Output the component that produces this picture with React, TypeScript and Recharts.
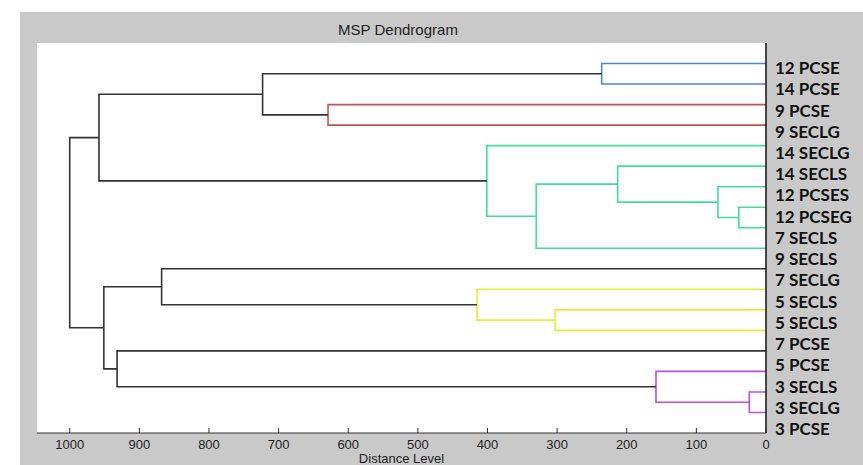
import { CartesianGrid, Line, LineChart, XAxis, YAxis } from "recharts";

// leaves, top to bottom
const leafLabels = [
  "12 PCSE",
  "14 PCSE",
  "9 PCSE",
  "9 SECLG",
  "14 SECLG",
  "14 SECLS",
  "12 PCSES",
  "12 PCSEG",
  "7 SECLS",
  "9 SECLS",
  "7 SECLG",
  "5 SECLS",
  "5 SECLS",
  "7 PCSE",
  "5 PCSE",
  "3 SECLS",
  "3 SECLG",
  "3 PCSE",
];

// linkage: node ids 0..17 are leaves, merge k gets id 18 + k
const mergeLeft = [7, 6, 5, 20, 4, 0, 2, 23, 25, 12, 11, 10, 16, 15, 14, 29, 26];
const mergeRight = [8, 18, 19, 9, 21, 1, 3, 24, 22, 13, 27, 28, 17, 30, 31, 32, 33];
const mergeHeight = [39, 69, 213, 330, 401, 236, 629, 723, 958, 303, 415, 868, 24, 158, 932, 951, 1000];
const mergeGroup = [
  "green", "green", "green", "green", "green",
  "blue", "red", "black", "black",
  "yellow", "yellow", "black",
  "purple", "purple", "black", "black", "black",
];

const distanceTicks = [0, 100, 200, 300, 400, 500, 600, 700, 800, 900, 1000];

const palette: Record<string, string> = {
  green: "#45dc9e",
  blue: "#4f83d6",
  red: "#c2564f",
  yellow: "#e3ee3a",
  purple: "#bb4fd9",
  black: "#333333",
};

const FONT = "'Liberation Sans', Arial, sans-serif";
const TICK_GAP = 7;

type Pt = { x: number; y: number };

function buildBrackets() {
  const nodes: Pt[] = leafLabels.map((_, i) => ({ x: 0, y: i + 1 }));
  const out: { pts: Pt[]; color: string }[] = [];
  mergeHeight.forEach((h, k) => {
    const a = nodes[mergeLeft[k]];
    const b = nodes[mergeRight[k]];
    nodes.push({ x: h, y: (a.y + b.y) / 2 });
    out.push({
      pts: [
        { x: a.x, y: a.y },
        { x: h, y: a.y },
        { x: h, y: b.y },
        { x: b.x, y: b.y },
      ],
      color: palette[mergeGroup[k]],
    });
  });
  return out;
}

const brackets = buildBrackets();
const labelTicks = leafLabels.map((_, i) => i + 1);

// matlab style: tick mark points into the plot, label below
function DistanceTick(props: any) {
  const { x, y, payload } = props;
  const axisY = y - TICK_GAP;
  return (
    <g>
      <line x1={x} x2={x} y1={axisY} y2={axisY - 5} stroke="#333" strokeWidth={1} />
      <text x={x} y={y} dy="0.71em" textAnchor="middle" fill="#1e1e1e" fontSize={13} fontFamily={FONT}>
        {payload.value}
      </text>
    </g>
  );
}

export default function App() {
  return (
    <div style={{ position: "absolute", left: 0, top: 0, width: 863, height: 465, background: "#fff", overflow: "hidden" }}>
      <div style={{ position: "absolute", left: 20, top: 12, width: 843, height: 453, background: "#c9c9c9" }} />
      <div
        style={{
          position: "absolute",
          left: 0,
          top: 21,
          width: 796,
          textAlign: "center",
          fontFamily: FONT,
          fontSize: 15,
          color: "#1e1e1e",
          lineHeight: "18px",
        }}
      >
        MSP Dendrogram
      </div>
      <LineChart
        width={863}
        height={465}
        margin={{ top: 43, right: 0, bottom: 0, left: 37 }}
        style={{ position: "absolute", left: 0, top: 0 }}
      >
        <CartesianGrid horizontal={false} vertical={false} fill="#ffffff" />
        <XAxis
          type="number"
          dataKey="x"
          domain={[0, 1047]}
          reversed
          allowDataOverflow
          ticks={distanceTicks}
          height={32}
          tickLine={false}
          tickSize={0}
          tickMargin={TICK_GAP}
          stroke="#333"
          tick={<DistanceTick />}
          label={{
            value: "Distance Level",
            position: "insideBottom",
            offset: 2,
            fill: "#1e1e1e",
            fontSize: 13,
            fontFamily: FONT,
          }}
        />
        <YAxis yAxisId="tree" type="number" domain={[0, 19]} reversed hide allowDataOverflow />
        <YAxis
          yAxisId="lab"
          orientation="right"
          type="number"
          domain={[-0.18, 18.19]}
          reversed
          allowDataOverflow
          ticks={labelTicks}
          interval={0}
          width={97}
          tickLine={false}
          tickSize={0}
          tickMargin={9}
          axisLine={{ stroke: "#111", strokeWidth: 1.5 }}
          tickFormatter={(v: number) => leafLabels[v - 1] ?? ""}
          tick={{ fill: "#111", fontSize: 17, fontWeight: 700, fontFamily: "Lato, 'Open Sans', sans-serif" }}
        />
        {brackets.map((b, i) => (
          <Line
            key={i}
            yAxisId="tree"
            data={b.pts}
            dataKey="y"
            type="linear"
            stroke={b.color}
            strokeWidth={1.6}
            dot={false}
            activeDot={false}
            isAnimationActive={false}
          />
        ))}
      </LineChart>
    </div>
  );
}
